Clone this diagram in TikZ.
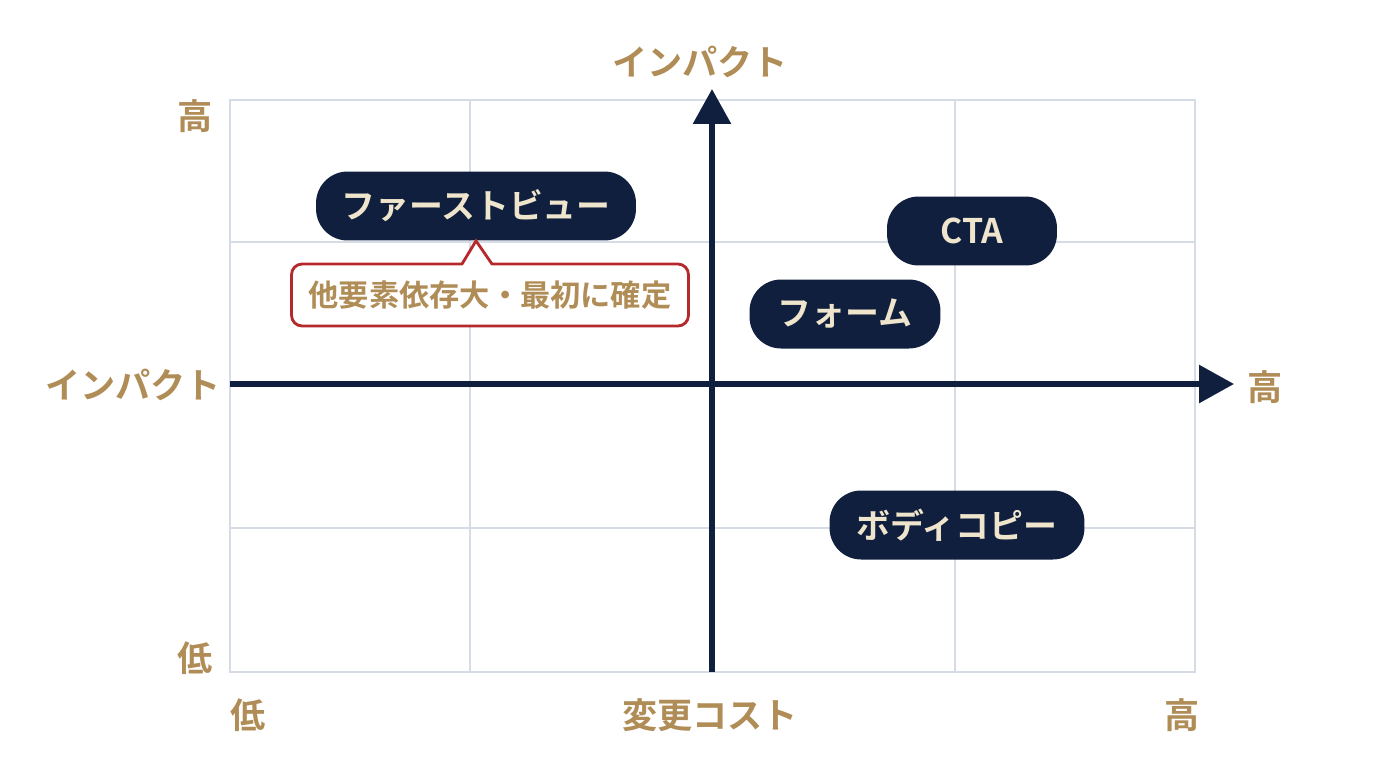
\documentclass[tikz,border=0pt]{standalone}
\usepackage{fontspec}
\setmainfont{Noto Sans CJK JP}[BoldFont={Noto Sans CJK JP Bold}]
\usetikzlibrary{arrows.meta}

\definecolor{navy}{HTML}{0F1F3D}
\definecolor{gold}{HTML}{B08D57}
\definecolor{cream}{HTML}{EFE4CC}
\definecolor{gridgray}{HTML}{D6DCE5}
\definecolor{notered}{HTML}{B5282C}

\tikzset{
    axislabel/.style={text=gold, font=\fontsize{20}{24}\selectfont\bfseries},
    item/.style={fill=navy, text=cream, rounded corners=18pt, minimum height=1.38cm,
        inner sep=0pt, font=\fontsize{19.3}{23}\selectfont\bfseries},
    note/.style={draw=notered, line width=1.6pt, fill=white, rounded corners=6pt,
        minimum width=7.94cm, minimum height=1.24cm, inner sep=0pt, text=gold,
        font=\fontsize{17.2}{20}\selectfont\bfseries},
    axis/.style={navy, line width=3.4pt, -{Triangle[length=0.7cm, width=0.74cm]}}
}

\begin{document}
\begin{tikzpicture}[x=0.02cm, y=-0.02cm]
    \useasboundingbox (0,0) rectangle (1376,768);

    % grid
    \draw[gridgray, line width=0.8pt] (230,100) rectangle (1195,672);
    \foreach \x in {470,712,955}
        \draw[gridgray, line width=0.8pt] (\x,100) -- (\x,672);
    \foreach \y in {242,384,528}
        \draw[gridgray, line width=0.8pt] (230,\y) -- (1195,\y);

    % axes
    \coordinate (xstart) at (230,384);
    \coordinate (xend) at (1234,384);
    \coordinate (ystart) at (712,672);
    \coordinate (yend) at (712,89);
    \draw[axis] (xstart) -- (xend);
    \draw[axis] (ystart) -- (yend);

    % axis labels
    \node[axislabel] (ytitle) at (700,62) {インパクト};
    \node[axislabel] (ltitle) at (133,385) {インパクト};
    \node[axislabel] (xhigh) at (1265,387) {高};
    \node[axislabel] (yhigh) at (195,116) {高};
    \node[axislabel] (ylow) at (195,658) {低};
    \node[axislabel] (xlow) at (248,715) {低};
    \node[axislabel] (xtitle) at (710,715) {変更コスト};
    \node[axislabel] (xhigh2) at (1182,715) {高};

    % items
    \node[item, minimum width=6.4cm] (fv) at (476,206) {ファーストビュー};
    \node[item, minimum width=3.4cm] (cta) at (972,231) {CTA};
    \node[item, minimum width=3.82cm] (form) at (845,314) {フォーム};
    \node[item, minimum width=5.1cm] (body) at (957,525) {ボディコピー};

    % callout
    \node[note] (dep) at (490,295) {他要素依存大・最初に確定};
    \coordinate (tipl) at (462,264);
    \coordinate (tipr) at (492,264);
    \fill[white] ([yshift=-1.5pt]tipl) -- (fv.south) -- ([yshift=-1.5pt]tipr) -- cycle;
    \draw[notered, line width=1.6pt, line join=miter] (tipl) -- (fv.south) -- (tipr);
\end{tikzpicture}
\end{document}
